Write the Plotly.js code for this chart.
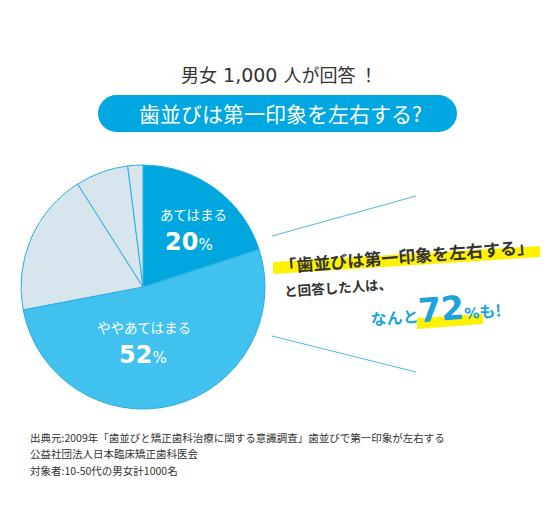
<!DOCTYPE html>
<html>
<head>
<meta charset="utf-8">
<script src="https://cdn.plot.ly/plotly-3.0.1.min.js"></script>
<style>html,body{margin:0;padding:0;background:#fff;}</style>
</head>
<body>
<div id="chart" style="width:556px;height:512px"></div>
<script>
// Survey answers: "Do teeth alignment affect first impressions?"
const categories = ['あてはまる', 'ややあてはまる', 'あまりあてはまらない', 'あてはまらない', 'わからない'];
const shares = [20, 52, 19, 7, 2];
const sliceColors = ['#00a6de', '#40c1ee', '#d7e5ec', '#d7e5ec', '#d7e5ec'];

const respondents = '1,000';
const question = '歯並びは第一印象を左右する?';
const calloutQuote = '「歯並びは第一印象を左右する」';
const calloutLead = 'と回答した人は、';
const sourceLines = [
  '出典元:2009年「歯並びと矯正歯科治療に関する意識調査」歯並びで第一印象が左右する',
  '公益社団法人日本臨床矯正歯科医会',
  '対象者:10-50代の男女計1000名'
];

const W = 556, H = 512;
const JP = '"Noto Sans CJK JP", "Noto Sans", sans-serif';
const NUMF = "'DejaVu Sans', sans-serif";
const BLUE = '#1aa3dc';
const INK = '#333333';

// pie placement (pixels)
const cx = 143, cy = 287, r = 122;

const pie = {
  type: 'pie',
  labels: categories,
  values: shares,
  sort: false,
  direction: 'clockwise',
  rotation: 0,
  textinfo: 'none',
  hoverinfo: 'skip',
  marker: { colors: sliceColors, line: { color: '#2aaee3', width: 1 } },
  domain: { x: [(cx - r) / W, (cx + r) / W], y: [(H - cy - r) / H, (H - cy + r) / H] },
  showlegend: false
};

function pct(v) {
  return '<span style="font-family:' + NUMF + ';font-size:24px;font-weight:bold">' + v +
         '</span><span style="font-family:' + NUMF + ';font-size:15px">%</span>';
}

const agreeTotal = shares[0] + shares[1];

const annotations = [
  { x: 279, y: 74, font: { family: JP, size: 18, color: INK },
    text: '男女<span style="font-family:' + NUMF + ';font-size:19px"> ' + respondents + ' </span>人が回答 ！' },
  { x: 280, y: 113, text: question, font: { family: JP, size: 21, color: '#ffffff' } },
  // labels inside the pie
  { x: 193, y: 214, text: categories[0], font: { family: JP, size: 13.5, color: '#ffffff' } },
  { x: 189, y: 242, text: pct(shares[0]), font: { family: NUMF, size: 24, color: '#ffffff' } },
  { x: 144, y: 327, text: categories[1], font: { family: JP, size: 13.5, color: '#ffffff' } },
  { x: 143, y: 355, text: pct(shares[1]), font: { family: NUMF, size: 24, color: '#ffffff' } },
  // callout
  { x: 406, y: 255, text: '<b>' + calloutQuote + '</b>', textangle: -4.5, font: { family: JP, size: 17, color: INK } },
  { x: 338, y: 287, text: '<b>' + calloutLead + '</b>', textangle: -4, font: { family: JP, size: 13.5, color: INK } },
  { x: 435, y: 309, textangle: -4,
    text: '<b>なんと</b><span style="font-family:' + NUMF + ';font-size:33px;font-weight:bold">' + agreeTotal +
          '</span><span style="font-family:' + NUMF + ';font-size:15px;font-weight:bold">%</span><b>も!</b>',
    font: { family: JP, size: 16, color: BLUE } }
];

sourceLines.forEach(function (line, i) {
  annotations.push({ x: 28, y: 437 + i * 16.5, xanchor: 'left', text: line, font: { family: JP, size: 10.5, color: INK } });
});

annotations.forEach(function (a) {
  a.xref = 'x'; a.yref = 'y'; a.showarrow = false;
  if (!a.xanchor) a.xanchor = 'center';
  a.yanchor = 'middle';
});

const shapes = [
  // rounded banner behind the question
  { type: 'rect', x0: 116.5, x1: 438.5, y0: 95, y1: 132, fillcolor: '#00a7e0', line: { width: 0 }, layer: 'below' },
  { type: 'circle', x0: 98, x1: 135, y0: 95, y1: 132, fillcolor: '#00a7e0', line: { width: 0 }, layer: 'below' },
  { type: 'circle', x0: 420, x1: 457, y0: 95, y1: 132, fillcolor: '#00a7e0', line: { width: 0 }, layer: 'below' },
  // fan lines from the pie
  { type: 'line', x0: 272, y0: 236, x1: 416, y1: 196, line: { color: '#4cb9e8', width: 1 } },
  { type: 'line', x0: 272, y0: 336, x1: 416, y1: 372, line: { color: '#4cb9e8', width: 1 } },
  // marker highlights
  { type: 'path', path: 'M273,262 L540,246 L540,257 L273,274 Z', fillcolor: '#fff200', line: { width: 0 }, layer: 'below' },
  { type: 'path', path: 'M417,318 L483,314 L483,324 L417,329 Z', fillcolor: '#fff200', line: { width: 0 }, layer: 'below' }
];

const layout = {
  width: W, height: H,
  margin: { l: 0, r: 0, t: 0, b: 0 },
  paper_bgcolor: '#ffffff', plot_bgcolor: 'rgba(0,0,0,0)',
  xaxis: { range: [0, W], visible: false, fixedrange: true },
  yaxis: { range: [H, 0], visible: false, fixedrange: true },
  annotations: annotations,
  shapes: shapes,
  showlegend: false
};

Plotly.newPlot('chart', [pie], layout, { staticPlot: true, displayModeBar: false });
</script>
</body>
</html>
